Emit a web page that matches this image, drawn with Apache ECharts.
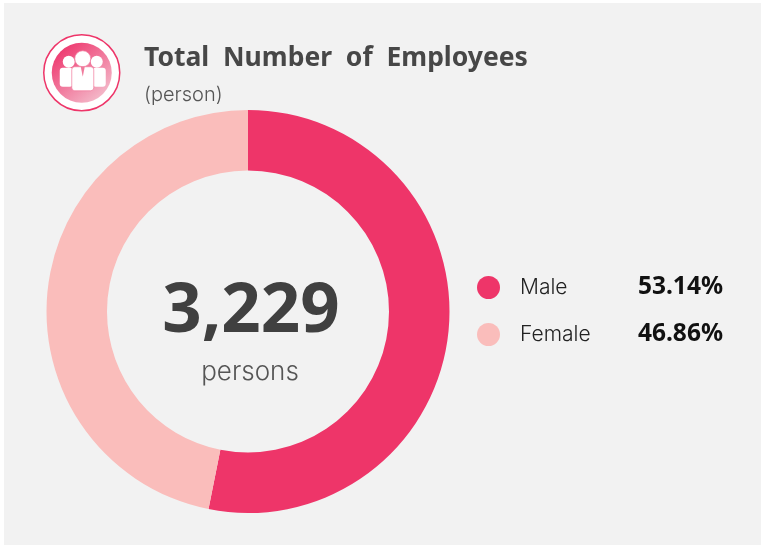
<!DOCTYPE html>
<html><head><meta charset="utf-8">
<style>html,body{margin:0;padding:0;background:#fff}#c{width:761px;height:545px}</style>
<script src="https://cdn.jsdelivr.net/npm/echarts@6/dist/echarts.min.js"></script>
</head><body><div id="c"></div>
<script>
const categories = ['Male', 'Female'];
const shares = [53.14, 46.86];
const colors = ['#EE3569', '#FABDBB'];
const totalLabel = '3,229';
const unitLabel = 'persons';
const titleText = 'Total  Number  of  Employees';
const subText = '(person)';

const chart = echarts.init(document.getElementById('c'), null, {renderer: 'canvas'});
const white = {fill: '#fff'};
chart.setOption({
  backgroundColor: '#fff',
  animation: false,
  title: [
    {text: titleText, left: 139, top: 40, textStyle: {fontFamily: 'Noto Sans', fontWeight: 'bold', fontSize: 26.5, color: '#474747'}},
    {text: subText, left: 139, top: 80, textStyle: {fontFamily: 'Inter', fontWeight: 300, fontSize: 20, color: '#555'}},
    {text: totalLabel, left: 246, top: 273, textAlign: 'center', textStyle: {fontFamily: 'Noto Sans', fontWeight: 'bold', fontSize: 69, color: '#404040'}},
    {text: unitLabel, left: 245, top: 354, textAlign: 'center', textStyle: {fontFamily: 'Inter', fontWeight: 300, fontSize: 26, color: '#555'}}
  ],
  legend: {
    orient: 'vertical', left: 472, top: 270,
    icon: 'circle', itemWidth: 23, itemHeight: 23, itemGap: 22,
    selectedMode: false,
    data: categories,
    formatter: name => {
      const i = categories.indexOf(name);
      return '{n|' + name + '}{v|' + shares[i].toFixed(2) + '%}';
    },
    textStyle: {
      rich: {
        n: {fontFamily: 'Inter', fontWeight: 300, fontSize: 21, color: '#222', width: 115, padding: [0,0,0,15]},
        v: {fontFamily: 'Noto Sans', fontWeight: 'bold', fontSize: 24.5, color: '#111', width: 88, align: 'right'}
      }
    }
  },
  graphic: [
    {type: 'rect', z: -10, shape: {x: 4, y: 3, width: 757, height: 542}, style: {fill: '#F2F2F2'}},
    {type: 'group', left: 43, top: 34, children: [
      {type: 'circle', shape: {cx: 39, cy: 39, r: 38}, style: {fill: '#fff', stroke: '#EE3569', lineWidth: 1.5}},
      {type: 'circle', shape: {cx: 39, cy: 39, r: 30}, style: {fill: new echarts.graphic.LinearGradient(0.15, 0.1, 0.85, 0.95, [{offset: 0, color: '#EE3A70'}, {offset: 1, color: '#F4BECD'}])}},
      {type: 'circle', shape: {cx: 26, cy: 28, r: 6}, style: white},
      {type: 'circle', shape: {cx: 54, cy: 28, r: 6}, style: white},
      {type: 'rect', shape: {x: 17, y: 34, width: 13, height: 19, r: 3}, style: white},
      {type: 'rect', shape: {x: 50, y: 34, width: 13, height: 19, r: 3}, style: white},
      {type: 'circle', shape: {cx: 40, cy: 25, r: 8}, style: {fill: '#fff', stroke: '#F07A9C', lineWidth: 0.7}},
      {type: 'rect', shape: {x: 29, y: 33, width: 22, height: 24, r: 3}, style: {fill: '#fff', stroke: '#F07A9C', lineWidth: 0.7}},
      {type: 'polygon', shape: {points: [[38, 33], [42, 33], [41, 38], [40, 43], [39, 38]]}, style: {fill: '#F07A9C'}}
    ]}
  ],
  series: [{
    type: 'pie',
    center: [248, 311.5],
    radius: [141, 201.5],
    startAngle: 90,
    silent: true,
    label: {show: false},
    labelLine: {show: false},
    data: categories.map((name, i) => ({name, value: shares[i], itemStyle: {color: colors[i]}}))
  }]
});
</script></body></html>
